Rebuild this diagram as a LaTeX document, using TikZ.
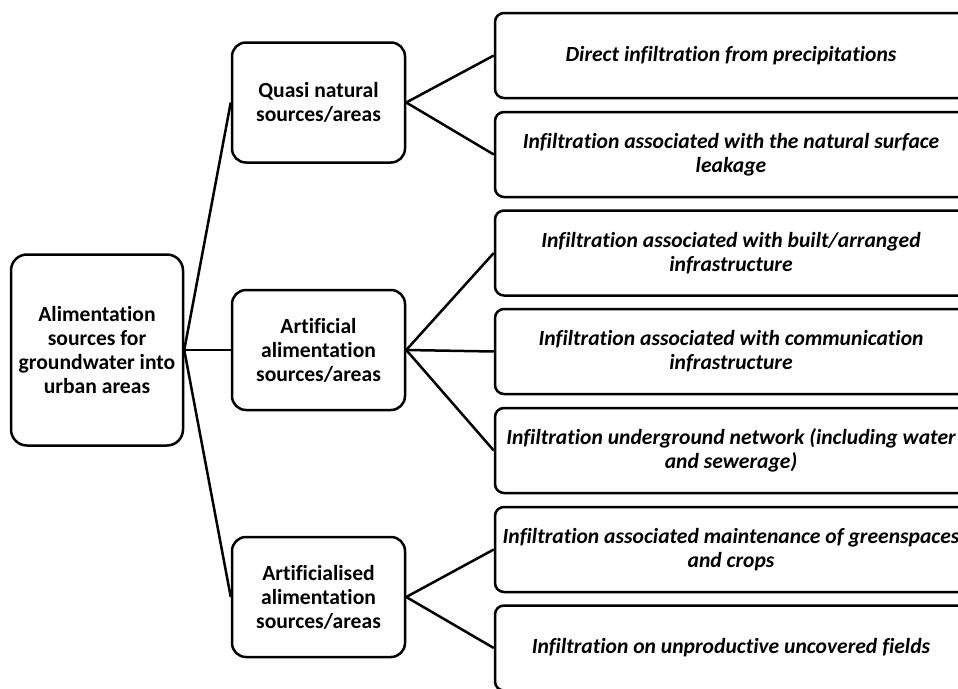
\documentclass[tikz,border=0pt]{standalone}
\usepackage{fontspec}
\setmainfont{Carlito}[Ligatures=CommonOff]
\usetikzlibrary{positioning}
\tikzset{box/.style={draw,line width=2.5pt,rounded corners=14pt,align=center,fill=white,
    font=\bfseries\fontsize{21.6}{24}\selectfont,minimum width=173pt,minimum height=120pt,inner sep=2pt},
  rootbox/.style={box,minimum width=172pt,minimum height=191pt,rounded corners=16pt},
  srcbox/.style={box,rounded corners=9pt,minimum width=472pt,minimum height=85pt,
    font=\bfseries\itshape\fontsize{21.6}{24}\selectfont},
  link/.style={line width=2.5pt}}

\begin{document}
\begin{tikzpicture}[x=1pt,y=-1pt]
\clip (0,0) rectangle (958,688);
\node[rootbox] (root) at (97,350) {Alimentation\\sources for\\groundwater into\\urban areas};
\node[box] (quasi) at (318.5,102.5) {Quasi natural\\sources/areas};
\node[box] (artif) at (318.5,350) {Artificial\\alimentation\\sources/areas};
\node[box] (artsd) at (318.5,597) {Artificialised\\alimentation\\sources/areas};
\foreach \n/\y/\t in {1/55.5/{Direct infiltration from precipitations},
  2/154.5/{Infiltration associated with the natural surface\\leakage},
  3/253/{Infiltration associated with built/arranged\\infrastructure},
  4/351.5/{Infiltration associated with communication\\infrastructure},
  5/450.5/{Infiltration underground network (including water\\and sewerage)},
  6/549.5/{Infiltration associated maintenance of greenspaces\\and crops},
  7/648/{Infiltration on unproductive uncovered fields}}
  \node[srcbox] (src\n) at (731,\y) {\t};
% level 1
\foreach \c in {quasi,artif,artsd} \draw[link] (root.east) -- (\c.west);
% level 2
\foreach \s in {1,2} \draw[link] (quasi.east) -- (src\s.west);
\foreach \s in {3,4,5} \draw[link] (artif.east) -- (src\s.west);
\foreach \s in {6,7} \draw[link] (artsd.east) -- (src\s.west);
\end{tikzpicture}
\end{document}
